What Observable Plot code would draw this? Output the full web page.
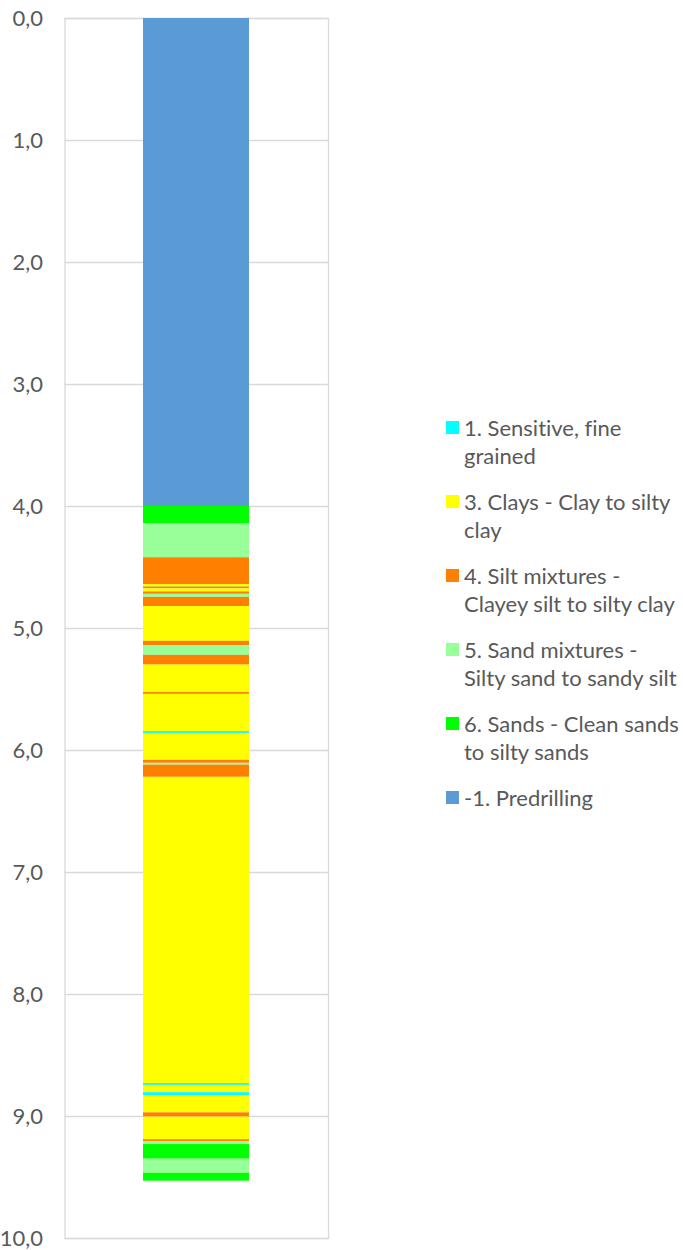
<!DOCTYPE html>
<html>
<head>
<meta charset="utf-8">
<script src="https://cdn.jsdelivr.net/npm/d3@7"></script>
<script src="https://cdn.jsdelivr.net/npm/@observablehq/plot@0.6"></script>
<style>
  html, body { margin: 0; padding: 0; background: #fff; }
  #wrap { position: relative; width: 683px; height: 1250px; }
  #legend { position: absolute; left: 446px; top: 413.5px; font-family: Lato, "Liberation Sans", sans-serif; font-size: 22px; color: #595959; font-variant-ligatures: none; }
  .entry { display: flex; align-items: flex-start; margin-bottom: 18px; line-height: 28px; white-space: pre-line; }
  .sw { width: 13px; height: 13px; margin-top: 7.5px; margin-right: 5px; flex: none; }
</style>
</head>
<body>
<div id="wrap"><div id="chart"></div><div id="legend"></div></div>
<script>
// Soil behaviour type classes
const classLabels = [
  "1. Sensitive, fine grained",
  "3. Clays - Clay to silty clay",
  "4. Silt mixtures - Clayey silt to silty clay",
  "5. Sand mixtures - Silty sand to sandy silt",
  "6. Sands - Clean sands to silty sands",
  "-1. Predrilling"
];
const legendLines = [
  "1. Sensitive, fine\ngrained",
  "3. Clays - Clay to silty\nclay",
  "4. Silt mixtures -\nClayey silt to silty clay",
  "5. Sand mixtures -\nSilty sand to sandy silt",
  "6. Sands - Clean sands\nto silty sands",
  "-1. Predrilling"
];
const classColors = ["#00ffff", "#ffff00", "#ff8000", "#99ff99", "#00ff00", "#5b9bd5"];

// Layers: depth from / to (m) and class code
const depthFrom = [0, 4.0, 4.14, 4.42, 4.64, 4.66, 4.675, 4.70, 4.72, 4.745, 4.82, 5.105, 5.14, 5.22, 5.30, 5.525, 5.54, 5.845, 5.86, 6.08, 6.105, 6.12, 6.22, 8.73, 8.745, 8.805, 8.83, 8.97, 9.005, 9.19, 9.205, 9.23, 9.35, 9.465];
const depthTo   = [4.0, 4.14, 4.42, 4.64, 4.66, 4.675, 4.70, 4.72, 4.745, 4.82, 5.105, 5.14, 5.22, 5.30, 5.525, 5.54, 5.845, 5.86, 6.08, 6.105, 6.12, 6.22, 8.73, 8.745, 8.805, 8.83, 8.97, 9.005, 9.19, 9.205, 9.23, 9.35, 9.465, 9.53];
const layerClass = [-1, 6, 5, 4, 3, 4, 3, 4, 5, 4, 3, 4, 5, 4, 3, 4, 3, 1, 3, 4, 5, 4, 3, 1, 3, 1, 3, 4, 3, 4, 5, 6, 5, 6];
const classCodes = [1, 3, 4, 5, 6, -1];

const yTicks = [0, 1, 2, 3, 4, 5, 6, 7, 8, 9, 10];

const layers = depthFrom.map((d, i) => ({
  site: "CPT",
  from: d,
  to: depthTo[i],
  label: classLabels[classCodes.indexOf(layerClass[i])]
}));

const fmt = d => d.toFixed(1).replace(".", ",");

const chart = Plot.plot({
  width: 683,
  height: 1250,
  marginTop: 18,
  marginBottom: 12,
  marginLeft: 64.5,
  marginRight: 355,
  style: { fontFamily: "Lato, 'Liberation Sans', sans-serif", fontSize: "22px", color: "#595959", background: "#fff" },
  x: { type: "band", domain: ["CPT"], paddingInner: 0.4265, paddingOuter: 0.4265, axis: null },
  y: { domain: [0, 10], reverse: true, label: null },
  color: { domain: classLabels, range: classColors },
  marks: [
    Plot.gridY(yTicks, { stroke: "#d9d9d9", strokeOpacity: 1, strokeWidth: 1.3 }),
    Plot.frame({ stroke: "#d9d9d9", strokeWidth: 1.3 }),
    Plot.barY(layers, { x: "site", y1: "from", y2: "to", fill: "label" }),
    Plot.axisY(yTicks, { tickSize: 0, tickPadding: 22, tickFormat: fmt, fill: "#595959", label: null })
  ]
});
document.getElementById("chart").appendChild(chart);

const legend = document.getElementById("legend");
legendLines.forEach((t, i) => {
  const e = document.createElement("div");
  e.className = "entry";
  const s = document.createElement("div");
  s.className = "sw";
  s.style.background = classColors[i];
  const l = document.createElement("div");
  l.textContent = t;
  e.appendChild(s);
  e.appendChild(l);
  legend.appendChild(e);
});
</script>
</body>
</html>
